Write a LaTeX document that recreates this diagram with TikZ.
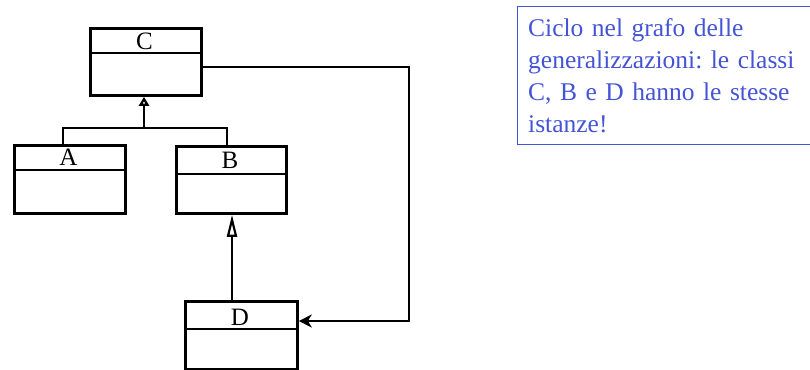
\documentclass[tikz,border=0pt]{standalone}
\usepackage{fontspec}
\setmainfont{Liberation Serif}
\usetikzlibrary{arrows.meta}
\definecolor{noteblue}{RGB}{68,84,214}
\frenchspacing
\begin{document}
\begin{tikzpicture}[x=1pt,y=-1pt,
  classbox/.style={draw,line width=2.8pt,inner sep=0pt,anchor=north west},
  lbl/.style={anchor=base,inner sep=0pt,font=\fontsize{25}{28}\selectfont},
  conn/.style={line width=2.8pt},
  gentip/.style={-{Triangle[open,length=#1,width=10pt,line width=2.2pt]}},
]
\useasboundingbox (0,0) rectangle (810,369);
% classes
\node[classbox,minimum width=111pt,minimum height=67pt] (C) at (89,27) {};
\node[classbox,minimum width=111pt,minimum height=68pt] (A) at (13,144) {};
\node[classbox,minimum width=110pt,minimum height=67pt] (B) at (175,145) {};
\node[classbox,minimum width=112pt,minimum height=68pt] (D) at (184,300) {};
% divider levels
\coordinate (cdiv) at (0,53);
\coordinate (adiv) at (0,170);
\coordinate (bdiv) at (0,174);
\coordinate (ddiv) at (0,329);
\draw[conn] (C.west |- cdiv) -- (C.east |- cdiv);
\draw[conn] (A.west |- adiv) -- (A.east |- adiv);
\draw[conn] (B.west |- bdiv) -- (B.east |- bdiv);
\draw[conn] (D.west |- ddiv) -- (D.east |- ddiv);
% labels
\node[lbl] (Cl) at (144.5,49) {C};
\node[lbl] (Al) at (68.5,165) {A};
\node[lbl] (Bl) at (230,168) {B};
\node[lbl] (Dl) at (240,325) {D};
% generalization A,B -> C
\coordinate (ja) at (63,128);
\coordinate (jb) at (227,128);
\coordinate (jc) at (144,128);
\draw[conn] (ja |- A.north) -- (ja) -- (jb) -- (jb |- B.north);
\draw[conn,gentip=9pt] (jc) -- (jc |- C.south);
% generalization D -> B
\coordinate (xd) at (232,0);
\draw[conn,gentip=22pt] (xd |- D.north) -- (xd |- B.south);
% C -> D
\coordinate (cy) at (0,67);
\coordinate (dy) at (0,321);
\coordinate (rx) at (409,0);
\draw[conn,-{Stealth[length=13pt,width=13pt,inset=4pt]}] (C.east |- cy) -- (rx |- cy) -- (rx |- dy) -- (D.east |- dy);
% note
\node[draw=noteblue,line width=1.3pt,inner sep=0pt,anchor=north west,minimum width=300pt,minimum height=138pt] (note) at (517,6) {};
\node[anchor=north west,inner sep=0pt,text width=285pt,align=left,text=noteblue,font=\fontsize{25.5}{32}\selectfont] (notetext) at (528,18) {Ciclo nel grafo delle\\generalizzazioni: le classi\\C, B e D hanno le stesse\\istanze!};
\end{tikzpicture}
\end{document}
